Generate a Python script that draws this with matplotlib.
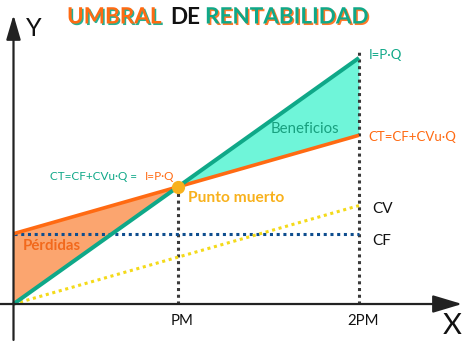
import matplotlib
matplotlib.use("Agg")
import matplotlib.pyplot as plt
import matplotlib.patheffects as pe
import numpy as np

# Quantities (break-even at PM, second tick at 2PM)
q = [0, 21]
q_pm = 10
q_2pm = 21
tick_labels = ["PM", "2PM"]

# Money values along q
income = [0, 126]          # I = P·Q
total_cost = [36, 86.4]    # CT = CF + CVu·Q
variable_cost = [0, 50.4]  # CV
fixed_cost = [36, 36]      # CF
breakeven = [10, 60]

TEAL = "#0FA888"
TEAL_FILL = "#6FF5D9"
ORANGE = "#FF6A12"
ORANGE_FILL = "#FBA56F"
GOLD = "#F8B11C"
YELLOW = "#F4DA1A"
NAVY = "#0E4D8E"
GREY = "#3A3A3A"

plt.rcParams["font.family"] = ["Lato", "DejaVu Sans"]

W, H = 471, 346
fig = plt.figure(figsize=(W / 100, H / 100), dpi=100)
ax = fig.add_axes([0, 0, 1, 1])
ax.set_xlim(-0.8207, 27.812)
ax.set_ylim(-21.5, 155.66)
ax.axis("off")


def px(x, y):
    return x / W, 1 - y / H


# shaded regions between income and total cost
ql = np.array([q[0], breakeven[0]])
ax.fill_between(ql, np.interp(ql, q, income), np.interp(ql, q, total_cost),
                color=ORANGE_FILL, lw=0, zorder=1)
qr = np.array([breakeven[0], q[1]])
ax.fill_between(qr, np.interp(qr, q, income), np.interp(qr, q, total_cost),
                color=TEAL_FILL, lw=0, zorder=1)

# reference verticals at PM and 2PM
ax.plot([q_pm, q_pm], [0, breakeven[1]], color=GREY, lw=2.2,
        ls=(0, (1, 1.2)), zorder=2)
ax.plot([q_2pm, q_2pm], [0, income[1] + 4], color=GREY, lw=2.2,
        ls=(0, (1, 1.2)), zorder=2)

# fixed and variable costs
ax.plot(q, fixed_cost, color=NAVY, lw=2.2, ls=(0, (1, 1.2)), zorder=3)
ax.plot(q, variable_cost, color=YELLOW, lw=2.2, ls=(0, (1, 1.2)), zorder=3)

# income and total cost lines
ax.plot(q, total_cost, color=ORANGE, lw=2.6, zorder=4, solid_capstyle="butt")
ax.plot(q, income, color=TEAL, lw=2.9, zorder=5, solid_capstyle="butt")

# break-even point
ax.plot([breakeven[0]], [breakeven[1]], "o", color=GOLD, ms=8.5, zorder=6)

# axes with arrows
ax.annotate("", xy=(0, 148), xytext=(0, -18.4),
            arrowprops=dict(arrowstyle="-|>,head_length=0.75,head_width=0.22",
                            lw=1.6, color="#222222", mutation_scale=20,
                            shrinkA=0, shrinkB=0), zorder=7)
ax.annotate("", xy=(27.27, 0), xytext=(-0.82, 0),
            arrowprops=dict(arrowstyle="-|>,head_length=0.9,head_width=0.27",
                            lw=1.6, color="#222222", mutation_scale=20,
                            shrinkA=0, shrinkB=0), zorder=7)

fig.text(*px(34, 29), "Y", fontsize=18, ha="center", va="center", color="#111111")
fig.text(*px(452, 326), "X", fontsize=21, ha="center", va="center", color="#111111")

# tick labels
for xpos, lab in zip([q_pm, q_2pm], tick_labels):
    ax.text(xpos + 0.25, -8.9, lab, fontsize=10.8, ha="center", va="center",
            color="#111111")

# title with offset shadows
TSIZE = 16.2
fig.text(*px(67, 17), "UMBRAL", fontsize=TSIZE, fontweight="bold", color=ORANGE,
         ha="left", va="center",
         path_effects=[pe.SimplePatchShadow(offset=(1.1, -1.1), shadow_rgbFace=TEAL, alpha=0.9),
                       pe.Normal()])
fig.text(*px(170, 17), "DE", fontsize=TSIZE, fontweight="bold", color="#111111",
         ha="left", va="center")
fig.text(*px(205, 17), "RENTABILIDAD", fontsize=TSIZE, fontweight="bold", color=TEAL,
         ha="left", va="center",
         path_effects=[pe.SimplePatchShadow(offset=(1.1, -1.1), shadow_rgbFace=ORANGE, alpha=0.9),
                       pe.Normal()])

# line labels
fig.text(*px(369, 55), "I=P·Q", fontsize=9.5, color=TEAL, ha="left", va="center")
fig.text(*px(368, 137), "CT=CF+CVu·Q", fontsize=9.5, color=ORANGE, ha="left", va="center")
fig.text(*px(271, 129), "Beneficios", fontsize=10.8, color="#18A07F", ha="left", va="center")
fig.text(*px(50, 177), "CT=CF+CVu·Q =", fontsize=8.5, color=TEAL, ha="left", va="center")
fig.text(*px(145, 177), "I=P·Q", fontsize=8.5, color=ORANGE, ha="left", va="center")
fig.text(*px(188, 198), "Punto muerto", fontsize=11.2, fontweight="bold", color=GOLD,
         ha="left", va="center")
fig.text(*px(23, 246), "Pérdidas", fontsize=10.8, fontweight="bold", color="#F2691C",
         ha="left", va="center")
fig.text(*px(372, 209), "CV", fontsize=11, color="#111111", ha="left", va="center")
fig.text(*px(372, 241), "CF", fontsize=11, color="#111111", ha="left", va="center")

fig.savefig("out.png", dpi=100)
